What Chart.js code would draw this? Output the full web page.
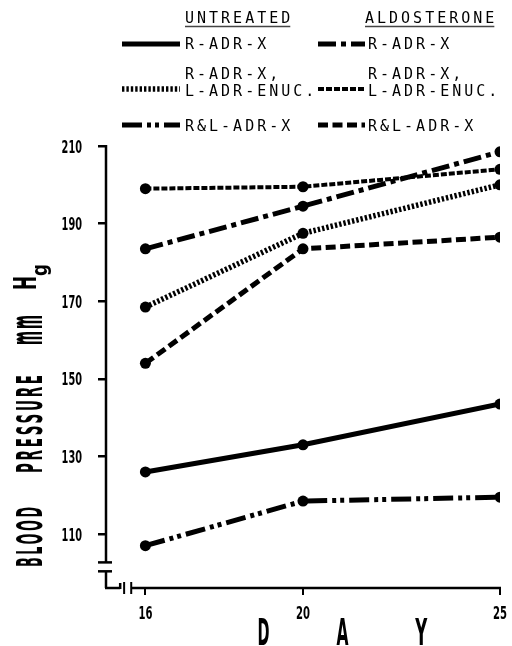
<!DOCTYPE html>
<html>
<head>
<meta charset="utf-8">
<script src="https://cdn.jsdelivr.net/npm/chart.js@4.4.1/dist/chart.umd.min.js"></script>
<style>
  html, body { margin: 0; padding: 0; background: #fff; }
  #wrap { position: relative; width: 512px; height: 646px; }
</style>
</head>
<body>
<div id="wrap"><canvas id="chart"></canvas></div>
<script>
// values (blood pressure, mm Hg)
const days = [16, 20, 25];
const untreatedRAdrX = [126, 133, 143.5];
const untreatedRAdrXLEnuc = [168.5, 187.5, 200];
const untreatedRLAdrX = [107, 118.5, 119.5];
const aldoRAdrX = [183.5, 194.5, 208.5];
const aldoRAdrXLEnuc = [199, 199.5, 204];
const aldoRLAdrX = [154, 183.5, 186.5];

const yTicks = [110, 130, 150, 170, 190, 210];
const xTicks = [16, 20, 25];
const groups = ['UNTREATED', 'ALDOSTERONE'];

const bold = "'DejaVu Sans', sans-serif";

function series(label, lines, group, row, values, dash, width) {
    return {
        label: label,
        legendLines: lines,
        group: group,
        row: row,
        data: days.map((d, i) => ({ x: d, y: values[i] })),
        borderColor: '#000',
        backgroundColor: '#000',
        borderWidth: width,
        borderDash: dash,
        borderCapStyle: 'butt',
        pointRadius: 5.5,
        pointBackgroundColor: '#000',
        pointBorderWidth: 0,
        tension: 0
    };
}

const datasets = [
    series('R-ADR-X', ['R-ADR-X'], 0, 0, untreatedRAdrX, [], 5),
    series('R-ADR-X, L-ADR-ENUC.', ['R-ADR-X,', 'L-ADR-ENUC.'], 0, 1, untreatedRAdrXLEnuc, [2.4, 2], 5.5),
    series('R&L-ADR-X', ['R&L-ADR-X'], 0, 2, untreatedRLAdrX, [20, 5, 4, 4, 4, 5], 5),
    series('R-ADR-X', ['R-ADR-X'], 1, 0, aldoRAdrX, [18, 5, 5, 5], 5),
    series('R-ADR-X, L-ADR-ENUC.', ['R-ADR-X,', 'L-ADR-ENUC.'], 1, 1, aldoRAdrXLEnuc, [6, 2], 4),
    series('R&L-ADR-X', ['R&L-ADR-X'], 1, 2, aldoRLAdrX, [10, 4.5], 5)
];

// draw text squeezed to a given length (the original lettering is very condensed)
function squeezed(ctx, text, x, y, font, len, angle, align, spacing) {
    ctx.save();
    ctx.font = font;
    ctx.textAlign = align || 'left';
    ctx.letterSpacing = (spacing || 0) + 'px';
    const w = ctx.measureText(text).width - (spacing || 0);
    ctx.translate(x, y);
    ctx.rotate(angle || 0);
    ctx.scale(len / w, 1);
    ctx.fillText(text, 0, 0);
    ctx.restore();
}

const paper = {
    id: 'paper',
    afterDraw(chart) {
        const { ctx, chartArea: a, scales: { x, y } } = chart;
        ctx.save();
        ctx.strokeStyle = '#000';
        ctx.fillStyle = '#000';
        ctx.lineCap = 'butt';
        ctx.textBaseline = 'alphabetic';
        const seg = (x1, y1, x2, y2, w) => {
            ctx.lineWidth = w || 2.5;
            ctx.beginPath(); ctx.moveTo(x1, y1); ctx.lineTo(x2, y2); ctx.stroke();
        };

        // broken axes
        const ax = a.left, by = a.bottom;
        const cut = y.getPixelForValue(102.7), cut2 = y.getPixelForValue(100.4);
        seg(ax, y.getPixelForValue(210) - 1, ax, cut);
        seg(ax - 8, cut, ax + 6, cut);
        seg(ax - 8, cut2, ax + 6, cut2);
        seg(ax, cut2, ax, by);
        const b0 = x.getPixelForValue(15.36);
        seg(ax - 1, by, b0, by);
        seg(b0, by - 5, b0, by + 1);
        seg(x.getPixelForValue(15.46), by - 6, x.getPixelForValue(15.46), by + 6, 2);
        const b2 = x.getPixelForValue(15.64);
        seg(b2, by - 6, b2, by + 6, 2);
        seg(b2, by, a.right + 1, by);

        // tick labels, condensed bold figures
        y.ticks.forEach(t => {
            const s = String(t.value);
            squeezed(ctx, s, ax - 24, y.getPixelForValue(t.value) + 6.5, 'bold 18px ' + bold, 6.8 * s.length, 0, 'right');
        });
        x.ticks.forEach(t => {
            const s = String(t.value);
            squeezed(ctx, s, x.getPixelForValue(t.value), by + 31, 'bold 18px ' + bold, 7 * s.length, 0, 'center');
        });

        // y title, rotated
        squeezed(ctx, 'BLOOD', 42, 567, 'bold 35px ' + bold, 60, -Math.PI / 2, 'left', 7);
        squeezed(ctx, 'PRESSURE', 42, 473, 'bold 35px ' + bold, 98, -Math.PI / 2, 'left', 7);
        squeezed(ctx, 'mm', 42, 345, 'bold 46px ' + bold, 30, -Math.PI / 2, 'left', 7);
        squeezed(ctx, 'H', 36, 290, 'bold 32px ' + bold, 14, -Math.PI / 2);
        squeezed(ctx, 'g', 47, 276, 'bold 22px ' + bold, 12, -Math.PI / 2);

        // x title
        ['D', 'A', 'Y'].forEach((c, i) => {
            squeezed(ctx, c, x.getPixelForValue(19 + 2 * i), 645, 'bold 37px ' + bold, 12, 0, 'center');
        });

        // legend in two columns
        const lineX = [[122, 180], [318, 365]];
        const textX = [185, 368];
        const rowY = [44, 89, 125];
        const baseY = [[49], [79, 96], [131]];
        ctx.textAlign = 'left';
        ctx.font = "15px 'DejaVu Sans Mono', monospace";
        ctx.letterSpacing = '3px';
        groups.forEach((g, i) => {
            const hx = i === 0 ? 185 : 365;
            ctx.fillText(g, hx, 23);
            const w = ctx.measureText(g).width;
            ctx.strokeStyle = '#444';
            seg(hx, 26.5, hx + w - 3, 26.5, 1.5);
        });
        ctx.strokeStyle = '#000';
        chart.data.datasets.forEach(ds => {
            const [l0, l1] = lineX[ds.group];
            ctx.save();
            ctx.setLineDash(ds.borderDash);
            ctx.lineWidth = ds.borderWidth;
            ctx.beginPath();
            ctx.moveTo(l0, rowY[ds.row]);
            ctx.lineTo(l1, rowY[ds.row]);
            ctx.stroke();
            ctx.restore();
            ds.legendLines.forEach((t, k) => ctx.fillText(t, textX[ds.group], baseY[ds.row][k]));
        });
        ctx.restore();
    }
};

new Chart(document.getElementById('chart'), {
    type: 'line',
    data: { datasets: datasets },
    plugins: [paper],
    options: {
        responsive: true,
        maintainAspectRatio: false,
        animation: false,
        layout: { padding: { top: 146, right: 12, left: 0, bottom: 0 } },
        plugins: { legend: { display: false }, tooltip: { enabled: false } },
        scales: {
            x: {
                type: 'linear',
                min: 15,
                max: 25,
                afterBuildTicks: s => { s.ticks = xTicks.map(v => ({ value: v })); },
                afterFit: s => { s.height = 58; },
                border: { display: false },
                grid: { drawOnChartArea: false, drawTicks: true, tickLength: 7, color: '#000', lineWidth: 2 },
                ticks: { display: false }
            },
            y: {
                min: 96.1,
                max: 210,
                afterBuildTicks: s => { s.ticks = yTicks.map(v => ({ value: v })); },
                afterFit: s => { s.width = 106; },
                border: { display: false },
                grid: { drawOnChartArea: false, drawTicks: true, tickLength: 8, color: '#000', lineWidth: 2.5 },
                ticks: { display: false }
            }
        }
    }
});
</script>
</body>
</html>
